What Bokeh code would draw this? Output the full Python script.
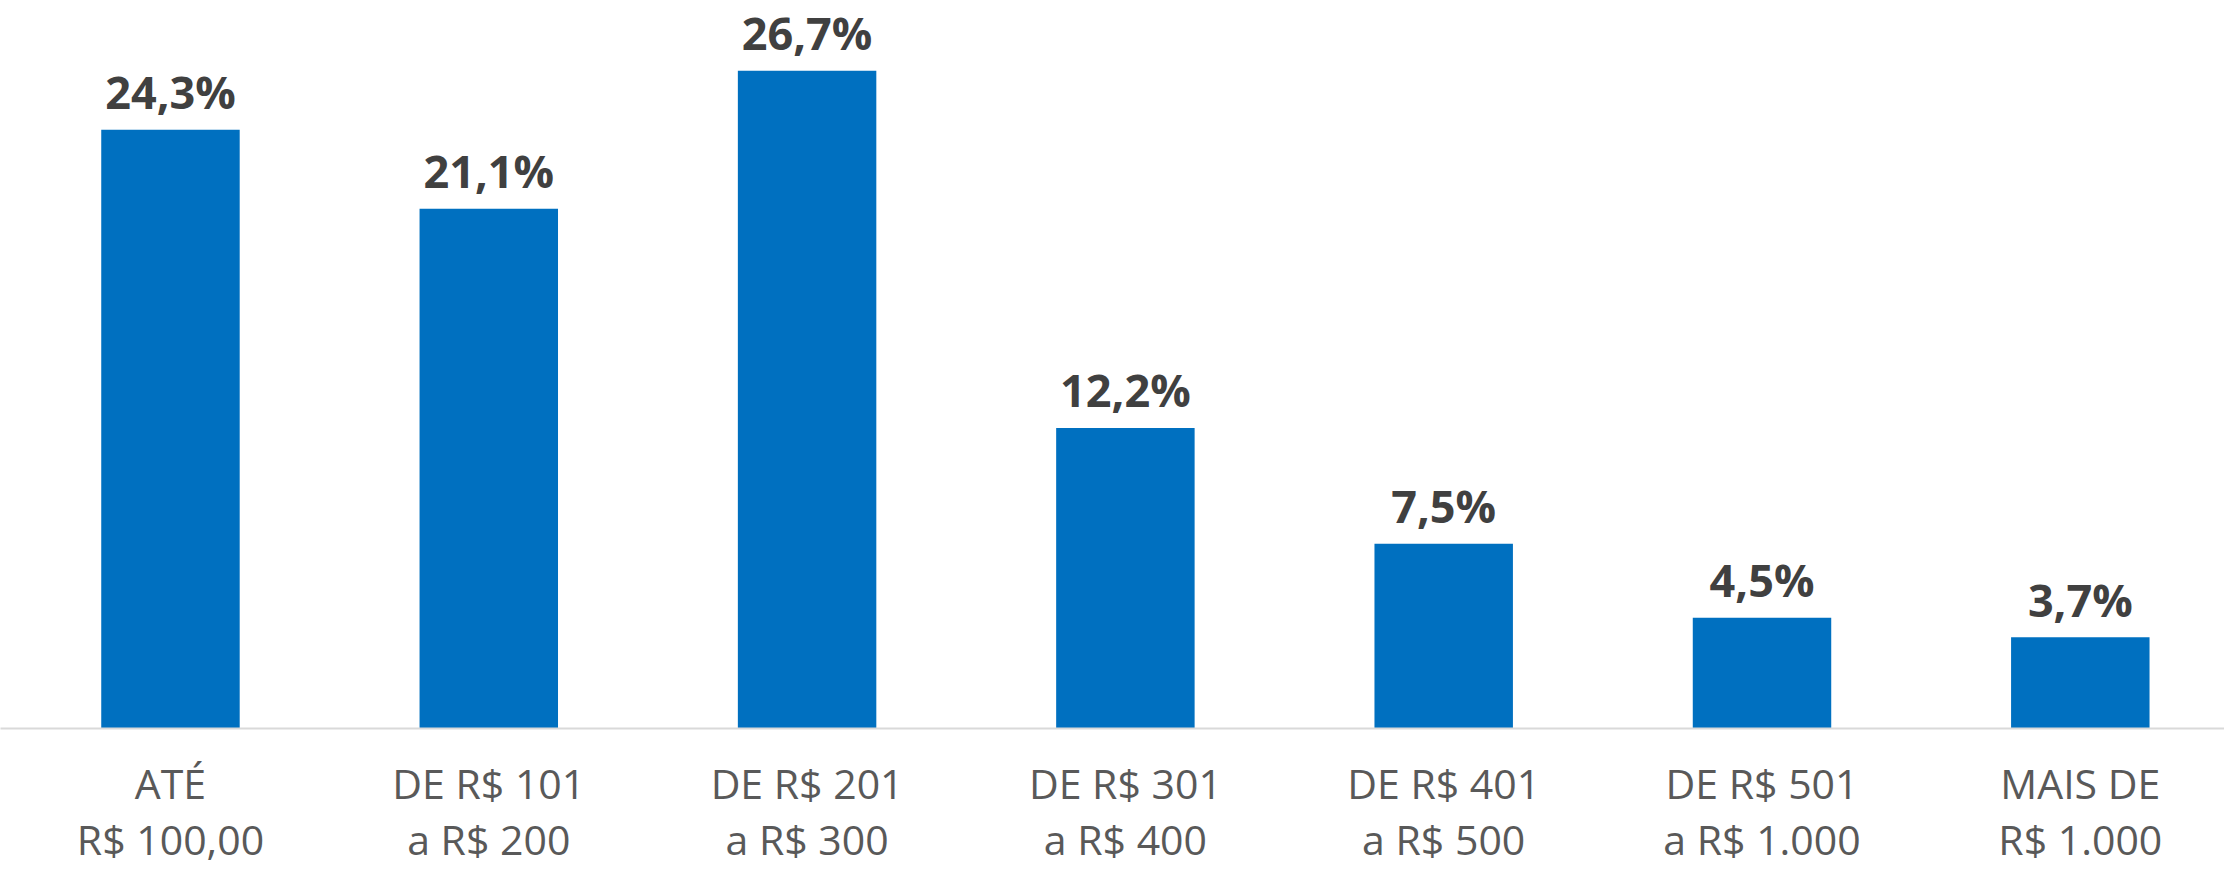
from bokeh.plotting import figure
from bokeh.models import Range1d, FixedTicker, ColumnDataSource
from bokeh.core.properties import value
from bokeh.embed import file_html
from bokeh.resources import INLINE

categories = ["ATÉ\nR$ 100,00", "DE R$ 101\na R$ 200", "DE R$ 201\na R$ 300",
              "DE R$ 301\na R$ 400", "DE R$ 401\na R$ 500", "DE R$ 501\na R$ 1.000",
              "MAIS DE\nR$ 1.000"]
values = [24.3, 21.1, 26.7, 12.2, 7.5, 4.5, 3.7]
value_labels = ["24,3%", "21,1%", "26,7%", "12,2%", "7,5%", "4,5%", "3,7%"]

xs = list(range(len(categories)))
src = ColumnDataSource(dict(x=xs, top=values, lbl=value_labels))

p = figure(frame_width=2224, frame_height=728, output_backend="svg", toolbar_location=None,
           x_range=Range1d(-0.534, 6.453), y_range=Range1d(0, 29.55),
           min_border_left=0, min_border_right=0, min_border_top=0, min_border_bottom=142)

p.vbar(x="x", top="top", width=0.435, bottom=0, source=src, color="#0070C0", line_color=None)
p.text(x="x", y="top", text="lbl", source=src, y_offset=-38,
       text_align="center", text_baseline="alphabetic",
       text_font=value("Open Sans"), text_font_style="bold", text_font_size="45px",
       text_color="#404040")

p.yaxis.visible = False
p.xgrid.visible = False
p.ygrid.visible = False
p.outline_line_color = None

ax = p.xaxis[0]
ax.ticker = FixedTicker(ticks=xs)
ax.major_label_overrides = {i: c for i, c in zip(xs, categories)}
ax.major_tick_line_color = None
ax.minor_tick_line_color = None
ax.axis_line_color = "#D9D9D9"
ax.axis_line_width = 2
ax.major_label_text_font = "Open Sans"
ax.major_label_text_font_size = "41px"
ax.major_label_text_color = "#595959"
ax.major_label_text_line_height = 1.0
ax.major_label_standoff = 20

open("out.html", "w").write(file_html(p, INLINE))
